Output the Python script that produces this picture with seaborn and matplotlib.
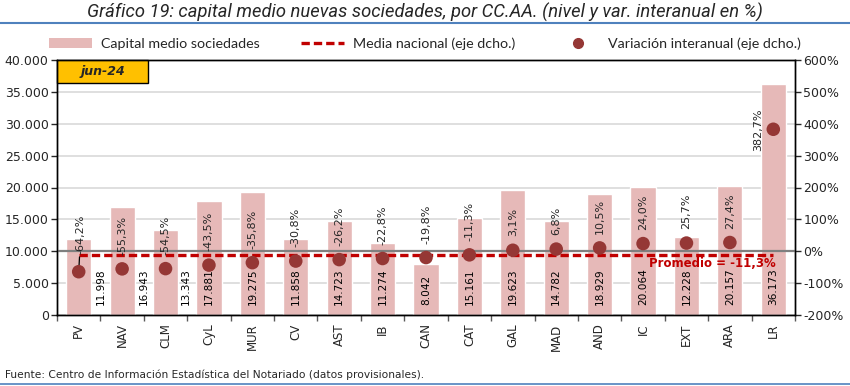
import numpy as np
import pandas as pd
import matplotlib
matplotlib.use("Agg")
import matplotlib.pyplot as plt
from matplotlib.patches import Patch, Rectangle
from matplotlib.lines import Line2D
from matplotlib.ticker import FuncFormatter, MultipleLocator, FixedLocator
import seaborn as sns

# ---- data ----
categorias = ["PV", "NAV", "CLM", "CyL", "MUR", "CV", "AST", "IB", "CAN", "CAT",
              "GAL", "MAD", "AND", "IC", "EXT", "ARA", "LR"]
capital_medio = [11998, 16943, 13343, 17881, 19275, 11858, 14723, 11274, 8042, 15161,
                 19623, 14782, 18929, 20064, 12228, 20157, 36173]
variacion = [-64.2, -55.3, -54.5, -43.5, -35.8, -30.8, -26.2, -22.8, -19.8, -11.3,
             3.1, 6.8, 10.5, 24.0, 25.7, 27.4, 382.7]
media_nacional = -11.3
periodo = "jun-24"

titulo = "Gráfico 19: capital medio nuevas sociedades, por CC.AA. (nivel y var. interanual en %)"
fuente = "Fuente: Centro de Información Estadística del Notariado (datos provisionales)."

# ---- style ----
sns.set_theme(style="white")
plt.rcParams["font.family"] = ["DejaVu Sans"]

BAR = "#E6B9B8"
DOT = "#953735"
DASH = "#C00000"
BLUE = "#4F81BD"

n = len(categorias)
pos = np.arange(n)
df = pd.DataFrame({"cat": categorias, "cap": capital_medio, "var": variacion, "pos": pos})
df["media"] = media_nacional

fig = plt.figure(figsize=(8.5, 3.86), dpi=100)
ax = fig.add_axes([57/850, 1-315/386, (795-57)/850, (315-60)/386])

sns.barplot(data=df, x="pos", y="cap", color=BAR, width=0.58, saturation=1,
            ax=ax, order=list(pos), native_scale=True)
ax.set_xlim(-0.5, n-0.5)
ax.set_ylim(0, 40000)
ax.yaxis.set_major_locator(MultipleLocator(5000))
ax.yaxis.set_major_formatter(FuncFormatter(lambda v, p: f"{int(v):,}".replace(",", ".")))
ax.grid(axis="y", color="#D9D9D9", lw=1.2)
ax.set_axisbelow(True)
ax.set_xlabel("")
ax.set_ylabel("")
ax.set_xticks(pos)
ax.set_xticklabels(categorias, rotation=90, fontsize=8.5)
ax.xaxis.set_minor_locator(FixedLocator(np.arange(-0.5, n, 1.0)))
ax.tick_params(axis="x", which="major", length=0, pad=6)
ax.tick_params(axis="x", which="minor", length=4, width=1, color="#595959", direction="out", bottom=True)
ax.tick_params(axis="y", length=4, width=1, direction="out", left=True, labelsize=9, pad=2)
for s in ["left", "bottom", "top", "right"]:
    ax.spines[s].set_visible(True)
    ax.spines[s].set_color("black")
    ax.spines[s].set_linewidth(1.0)

# value labels inside base
offsets_px = [22, 22, 20] + [0]*(n-3)
for i, v in enumerate(capital_medio):
    ax.annotate(f"{v:,}".replace(",", "."), xy=(i, 0), xytext=(offsets_px[i]*0.72, 7),
                textcoords="offset points", rotation=90, ha="center", va="bottom",
                fontsize=7.6, color="black")

ax2 = ax.twinx()
ax2.set_ylim(-200, 600)
ax2.yaxis.set_major_locator(MultipleLocator(100))
ax2.yaxis.set_major_formatter(FuncFormatter(lambda v, p: f"{int(v)}%"))
ax2.tick_params(axis="y", length=4, width=1, direction="out", right=True, labelsize=9, pad=2)
ax2.axhline(0, color="#7F7F7F", lw=1.6, zorder=1)
for s in ["left", "bottom", "top", "right"]:
    ax2.spines[s].set_color("black")
    ax2.spines[s].set_linewidth(1.0)

sns.lineplot(data=df, x="pos", y="media", ax=ax2, color=DASH, lw=2.4,
             dashes=False, zorder=3)
ax2.lines[-1].set_dashes([2.5, 1.2])
sns.scatterplot(data=df, x="pos", y="var", ax=ax2, color=DOT, s=95,
                edgecolor="none", zorder=4)
ax2.set_xlim(-0.5, n-0.5)
ax2.set_xlabel("")
ax2.set_ylabel("")
ax2.grid(False)

for i, v in enumerate(variacion):
    txt = f"{v:.1f}%".replace(".", ",")
    if i == n-1:
        ax2.annotate(txt, xy=(i, v), xytext=(-11, 0), textcoords="offset points",
                     rotation=90, ha="center", va="center", fontsize=8.0)
    elif i == 0:
        ax2.annotate(txt, xy=(i, v), xytext=(1.5, 13), textcoords="offset points",
                     rotation=90, ha="center", va="bottom", fontsize=8.0,
                     arrowprops=dict(arrowstyle="-", color="black", lw=0.9,
                                     shrinkA=0, shrinkB=0))
    else:
        ax2.annotate(txt, xy=(i, v), xytext=(0, 10), textcoords="offset points",
                     rotation=90, ha="center", va="bottom", fontsize=8.0)

ax2.text(14.6, -37, f"Promedio = {media_nacional:.1f}%".replace(".", ","),
         color=DASH, fontweight="bold", fontsize=8.5, ha="center", va="center", zorder=5)

# period box
ax.add_patch(Rectangle((0, 1-23/255), 91/738, 23/255, transform=ax.transAxes,
                       facecolor="#FFC000", edgecolor="black", lw=1, zorder=6, clip_on=False))
ax.text(45.5/738, 1-11.5/255, periodo, transform=ax.transAxes, ha="center", va="center",
        fontsize=9, fontweight="bold", style="italic", zorder=7)

# legend
handles = [Patch(facecolor=BAR, edgecolor="none"),
           Line2D([0], [0], color=DASH, lw=2.4, dashes=[2.5, 1.2]),
           Line2D([0], [0], color=DOT, marker="o", ls="none", markersize=7)]
labels = ["Capital medio sociedades", "Media nacional (eje dcho.)", "Variación interanual (eje dcho.)"]
fig.legend(handles, labels, loc="center", bbox_to_anchor=(0.5, 1-44/386), ncol=3,
           frameon=False, columnspacing=2.9, handlelength=3.0,
           handletextpad=0.6, prop={"family": ["Lato", "DejaVu Sans"], "size": 10.3})

# title & lines
fig.text(0.5, 1-12/386, titulo, ha="center", va="center", style="italic",
         fontsize=13.2, family=["Roboto", "DejaVu Sans"])
fig.add_artist(Line2D([0, 1], [1-23/386, 1-23/386], color=BLUE, lw=1.5, transform=fig.transFigure))
fig.text(5/850, 1-375/386, fuente, ha="left", va="center", fontsize=7.7)
fig.add_artist(Line2D([0, 1], [1-384/386, 1-384/386], color=BLUE, lw=1.2, transform=fig.transFigure))

fig.savefig("out.png", dpi=100)
